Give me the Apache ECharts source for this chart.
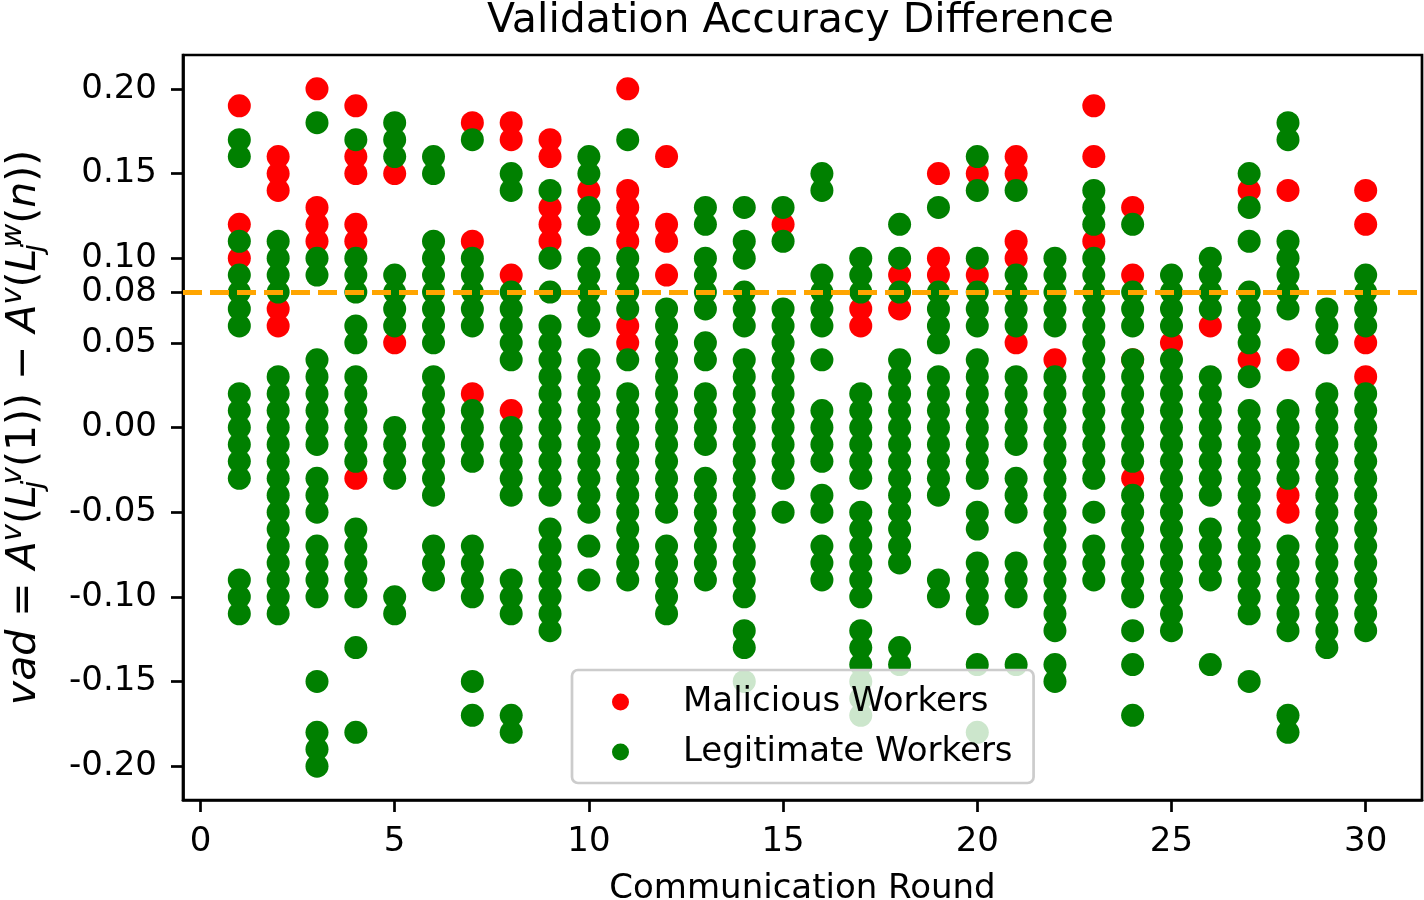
<!DOCTYPE html>
<html>
<head>
<meta charset="utf-8">
<title>Validation Accuracy Difference</title>
<script src="https://cdn.jsdelivr.net/npm/echarts@6/dist/echarts.min.js"></script>
<style>
  html, body { margin: 0; padding: 0; background: #fff; }
  #chart { width: 1424px; height: 900px; }
</style>
</head>
<body>
<div id="chart"></div>
<script>
// communication rounds (x)
const rounds = [1, 2, 3, 4, 5, 6, 7, 8, 9, 10, 11, 12, 13, 14, 15, 16, 17, 18, 19, 20, 21, 22, 23, 24, 25, 26, 27, 28, 29, 30];

// vad values of malicious workers, one list per round
const maliciousVad = [
  [0.19, 0.12, 0.10],
  [0.16, 0.15, 0.14, 0.07, 0.06],
  [0.20, 0.13, 0.12, 0.11],
  [0.19, 0.16, 0.15, 0.12, 0.11, -0.03],
  [0.15, 0.05],
  [],
  [0.18, 0.11, 0.02],
  [0.18, 0.17, 0.09, 0.01],
  [0.17, 0.16, 0.13, 0.12, 0.11],
  [0.14],
  [0.20, 0.14, 0.13, 0.12, 0.11, 0.06, 0.05],
  [0.16, 0.12, 0.11, 0.09],
  [],
  [],
  [0.12],
  [],
  [0.07, 0.06],
  [0.09, 0.07],
  [0.15, 0.10, 0.09],
  [0.15, 0.09],
  [0.16, 0.15, 0.11, 0.10, 0.05],
  [0.04],
  [0.19, 0.16, 0.11],
  [0.13, 0.09, 0.04, -0.03],
  [0.05],
  [0.06],
  [0.14, 0.04],
  [0.14, 0.04, -0.04, -0.05],
  [],
  [0.14, 0.12, 0.05, 0.03]
];

// vad values of legitimate workers, one list per round
const legitimateVad = [
  [0.17, 0.16, 0.11, 0.09, 0.08, 0.07, 0.06, 0.02, 0.01, 0.00, -0.01, -0.02, -0.03, -0.09, -0.10, -0.11],
  [0.11, 0.10, 0.09, 0.08, 0.03, 0.02, 0.01, 0.00, -0.01, -0.02, -0.03, -0.04, -0.05, -0.06, -0.07, -0.08, -0.09, -0.10, -0.11],
  [0.18, 0.10, 0.09, 0.04, 0.03, 0.02, 0.01, 0.00, -0.01, -0.03, -0.04, -0.05, -0.07, -0.08, -0.09, -0.10, -0.15, -0.18, -0.19, -0.20],
  [0.17, 0.10, 0.09, 0.08, 0.06, 0.05, 0.03, 0.02, 0.01, 0.00, -0.01, -0.02, -0.06, -0.07, -0.08, -0.09, -0.10, -0.13, -0.18],
  [0.18, 0.17, 0.16, 0.09, 0.08, 0.07, 0.06, 0.00, -0.01, -0.02, -0.03, -0.10, -0.11],
  [0.16, 0.15, 0.11, 0.10, 0.09, 0.08, 0.07, 0.06, 0.05, 0.03, 0.02, 0.01, 0.00, -0.01, -0.02, -0.03, -0.04, -0.07, -0.08, -0.09],
  [0.17, 0.10, 0.09, 0.08, 0.07, 0.06, 0.01, 0.00, -0.01, -0.02, -0.07, -0.08, -0.09, -0.10, -0.15, -0.17],
  [0.15, 0.14, 0.08, 0.07, 0.06, 0.05, 0.04, 0.00, -0.01, -0.02, -0.03, -0.04, -0.09, -0.10, -0.11, -0.17, -0.18],
  [0.14, 0.10, 0.08, 0.06, 0.05, 0.04, 0.03, 0.02, 0.01, 0.00, -0.01, -0.02, -0.03, -0.04, -0.06, -0.07, -0.08, -0.09, -0.10, -0.11, -0.12],
  [0.16, 0.15, 0.13, 0.12, 0.10, 0.09, 0.08, 0.07, 0.06, 0.04, 0.03, 0.02, 0.01, 0.00, -0.01, -0.02, -0.03, -0.04, -0.05, -0.07, -0.09],
  [0.17, 0.10, 0.09, 0.08, 0.07, 0.04, 0.02, 0.01, 0.00, -0.01, -0.02, -0.03, -0.04, -0.05, -0.06, -0.07, -0.08, -0.09],
  [0.07, 0.06, 0.05, 0.04, 0.03, 0.02, 0.01, 0.00, -0.01, -0.02, -0.03, -0.04, -0.05, -0.07, -0.08, -0.09, -0.10, -0.11],
  [0.13, 0.12, 0.10, 0.09, 0.08, 0.07, 0.05, 0.04, 0.02, 0.01, 0.00, -0.01, -0.03, -0.04, -0.05, -0.06, -0.07, -0.08, -0.09],
  [0.13, 0.11, 0.10, 0.08, 0.07, 0.06, 0.04, 0.03, 0.02, 0.01, 0.00, -0.01, -0.02, -0.03, -0.04, -0.05, -0.06, -0.07, -0.08, -0.09, -0.10, -0.12, -0.13, -0.15],
  [0.13, 0.11, 0.07, 0.06, 0.05, 0.04, 0.03, 0.02, 0.01, 0.00, -0.01, -0.02, -0.03, -0.05],
  [0.15, 0.14, 0.09, 0.08, 0.07, 0.06, 0.04, 0.01, 0.00, -0.01, -0.02, -0.04, -0.05, -0.07, -0.08, -0.09],
  [0.10, 0.09, 0.08, 0.02, 0.01, 0.00, -0.01, -0.02, -0.03, -0.05, -0.06, -0.07, -0.08, -0.09, -0.10, -0.12, -0.13, -0.14, -0.15, -0.16, -0.17],
  [0.12, 0.10, 0.08, 0.04, 0.03, 0.02, 0.01, 0.00, -0.01, -0.02, -0.03, -0.04, -0.05, -0.06, -0.07, -0.08, -0.13, -0.14],
  [0.13, 0.08, 0.07, 0.06, 0.05, 0.03, 0.02, 0.01, 0.00, -0.01, -0.02, -0.03, -0.04, -0.09, -0.10],
  [0.16, 0.14, 0.10, 0.08, 0.07, 0.06, 0.04, 0.03, 0.02, 0.01, 0.00, -0.01, -0.02, -0.03, -0.05, -0.06, -0.08, -0.09, -0.10, -0.11, -0.14, -0.18],
  [0.14, 0.09, 0.08, 0.07, 0.06, 0.03, 0.02, 0.01, 0.00, -0.01, -0.03, -0.04, -0.05, -0.08, -0.09, -0.10, -0.14],
  [0.10, 0.09, 0.08, 0.07, 0.06, 0.03, 0.02, 0.01, 0.00, -0.01, -0.02, -0.03, -0.04, -0.05, -0.06, -0.07, -0.08, -0.09, -0.10, -0.11, -0.12, -0.14, -0.15],
  [0.14, 0.13, 0.12, 0.10, 0.09, 0.08, 0.07, 0.06, 0.05, 0.04, 0.03, 0.02, 0.01, 0.00, -0.01, -0.02, -0.03, -0.05, -0.07, -0.08, -0.09],
  [0.12, 0.08, 0.07, 0.06, 0.04, 0.03, 0.02, 0.01, 0.00, -0.01, -0.02, -0.04, -0.05, -0.06, -0.07, -0.08, -0.09, -0.10, -0.12, -0.14, -0.17],
  [0.09, 0.08, 0.07, 0.06, 0.04, 0.03, 0.02, 0.01, 0.00, -0.01, -0.02, -0.03, -0.04, -0.05, -0.06, -0.07, -0.08, -0.09, -0.10, -0.11, -0.12],
  [0.10, 0.09, 0.08, 0.07, 0.03, 0.02, 0.01, 0.00, -0.01, -0.02, -0.03, -0.04, -0.06, -0.07, -0.08, -0.09, -0.14],
  [0.15, 0.13, 0.11, 0.08, 0.07, 0.06, 0.05, 0.03, 0.01, 0.00, -0.01, -0.02, -0.03, -0.04, -0.05, -0.06, -0.07, -0.08, -0.09, -0.10, -0.11, -0.15],
  [0.18, 0.17, 0.11, 0.10, 0.09, 0.08, 0.07, 0.01, 0.00, -0.01, -0.02, -0.03, -0.07, -0.08, -0.09, -0.10, -0.11, -0.12, -0.17, -0.18],
  [0.07, 0.06, 0.05, 0.02, 0.01, 0.00, -0.01, -0.02, -0.03, -0.04, -0.05, -0.06, -0.07, -0.08, -0.09, -0.10, -0.11, -0.12, -0.13],
  [0.09, 0.08, 0.07, 0.06, 0.02, 0.01, 0.00, -0.01, -0.02, -0.03, -0.04, -0.05, -0.06, -0.07, -0.08, -0.09, -0.10, -0.11, -0.12]
];

const thresholdVad = 0.08;
const xTickValues = [0, 5, 10, 15, 20, 25, 30];
const yTickValues = [-0.20, -0.15, -0.10, -0.05, 0.00, 0.05, 0.08, 0.10, 0.15, 0.20];
const seriesNames = ['Malicious Workers', 'Legitimate Workers'];

document.addEventListener('DOMContentLoaded', function(){
  const FONT = '"DejaVu Sans", sans-serif';

  function toPoints(lists){
    const pts = [];
    lists.forEach((vals, i) => {
      vals.forEach(v => pts.push([rounds[i], v]));
    });
    return pts;
  }

  const chart = echarts.init(document.getElementById('chart'), null, { renderer: 'canvas' });

  const tickLine = { color: '#000', width: 2.7 };
  // sub + sup stacked: sub gets a 1px box so the sup lands on top of it
  const yName = '{i|vad}{n| = }{i|A}{sup|v}{n|(}{i|L}{sub|j}{sup|v}{n|(1)) − }{i|A}{sup|v}{n|(}{i|L}{sub|j}{sup|w}{n|(}{i|n}{n|))}';

  const option = {
    backgroundColor: '#fff',
    animation: false,
    title: {
      text: 'Validation Accuracy Difference',
      left: 482,
      top: -4,
      textStyle: { color: '#000', fontSize: 41, fontWeight: 'normal', fontFamily: FONT }
    },
    grid: {
      left: 183, right: 2, top: 55, bottom: 100,
      outerBoundsMode: 'none',
      containLabel: false,
      show: true, borderColor: '#000', borderWidth: 2.7, backgroundColor: 'transparent'
    },
    legend: {
      data: seriesNames,
      orient: 'vertical',
      left: 572,
      top: 670,
      padding: [15, 21, 14, 40],
      itemGap: 16,
      itemWidth: 17,
      itemHeight: 17,
      icon: 'circle',
      backgroundColor: 'rgba(255,255,255,0.8)',
      borderColor: '#cccccc',
      borderWidth: 2.7,
      borderRadius: 6,
      z: 10,
      formatter: name => '{t|' + name + '}',
      textStyle: {
        color: '#000', fontSize: 34, fontFamily: FONT,
        rich: { t: { color: '#000', fontSize: 34, fontFamily: FONT, padding: [0, 0, 0, 49] } }
      }
    },
    xAxis: {
      type: 'value',
      min: -0.45,
      max: 31.45,
      name: 'Communication Round',
      nameLocation: 'middle',
      nameGap: 72,
      nameTextStyle: { color: '#000', fontSize: 34, fontFamily: FONT },
      axisLine: { show: true, onZero: false, lineStyle: tickLine },
      axisTick: { show: true, customValues: xTickValues, length: 12, lineStyle: tickLine },
      axisLabel: {
        customValues: xTickValues,
        margin: 25,
        color: '#000', fontSize: 34, fontFamily: FONT,
        formatter: v => String(v)
      },
      splitLine: { show: false }
    },
    yAxis: {
      type: 'value',
      min: -0.22,
      max: 0.22,
      name: yName,
      nameLocation: 'middle',
      nameRotate: 90,
      nameGap: 134,
      nameTextStyle: {
        color: '#000', fontFamily: FONT,
        rich: {
          i: { fontSize: 41, fontStyle: 'italic', fontFamily: FONT, color: '#000', lineHeight: 50 },
          n: { fontSize: 41, fontFamily: FONT, color: '#000', lineHeight: 50 },
          sup: { fontSize: 29, fontStyle: 'italic', fontFamily: FONT, color: '#000', lineHeight: 26, verticalAlign: 'top' },
          sub: { fontSize: 29, fontStyle: 'italic', fontFamily: FONT, color: '#000', lineHeight: 26, verticalAlign: 'bottom', width: 1, align: 'left' }
        }
      },
      axisLine: { show: true, onZero: false, lineStyle: tickLine },
      axisTick: { show: true, customValues: yTickValues, length: 12, lineStyle: tickLine },
      axisLabel: {
        customValues: yTickValues,
        margin: 26,
        color: '#000', fontSize: 34, fontFamily: FONT,
        formatter: v => v.toFixed(2)
      },
      splitLine: { show: false }
    },
    series: [
      {
        name: seriesNames[0],
        type: 'scatter',
        symbol: 'circle',
        symbolSize: 23,
        itemStyle: { color: '#ff0000', opacity: 1 },
        z: 2,
        data: toPoints(maliciousVad)
      },
      {
        name: seriesNames[1],
        type: 'scatter',
        symbol: 'circle',
        symbolSize: 23,
        itemStyle: { color: '#008000', opacity: 1 },
        z: 3,
        data: toPoints(legitimateVad)
      },
      {
        name: 'threshold',
        type: 'line',
        data: [],
        z: 5,
        markLine: {
          silent: true,
          symbol: 'none',
          label: { show: false },
          lineStyle: { color: '#ffa500', width: 5, type: [19, 8] },
          data: [{ yAxis: thresholdVad }]
        }
      }
    ]
  };

  chart.setOption(option);
});
</script>
</body>
</html>
